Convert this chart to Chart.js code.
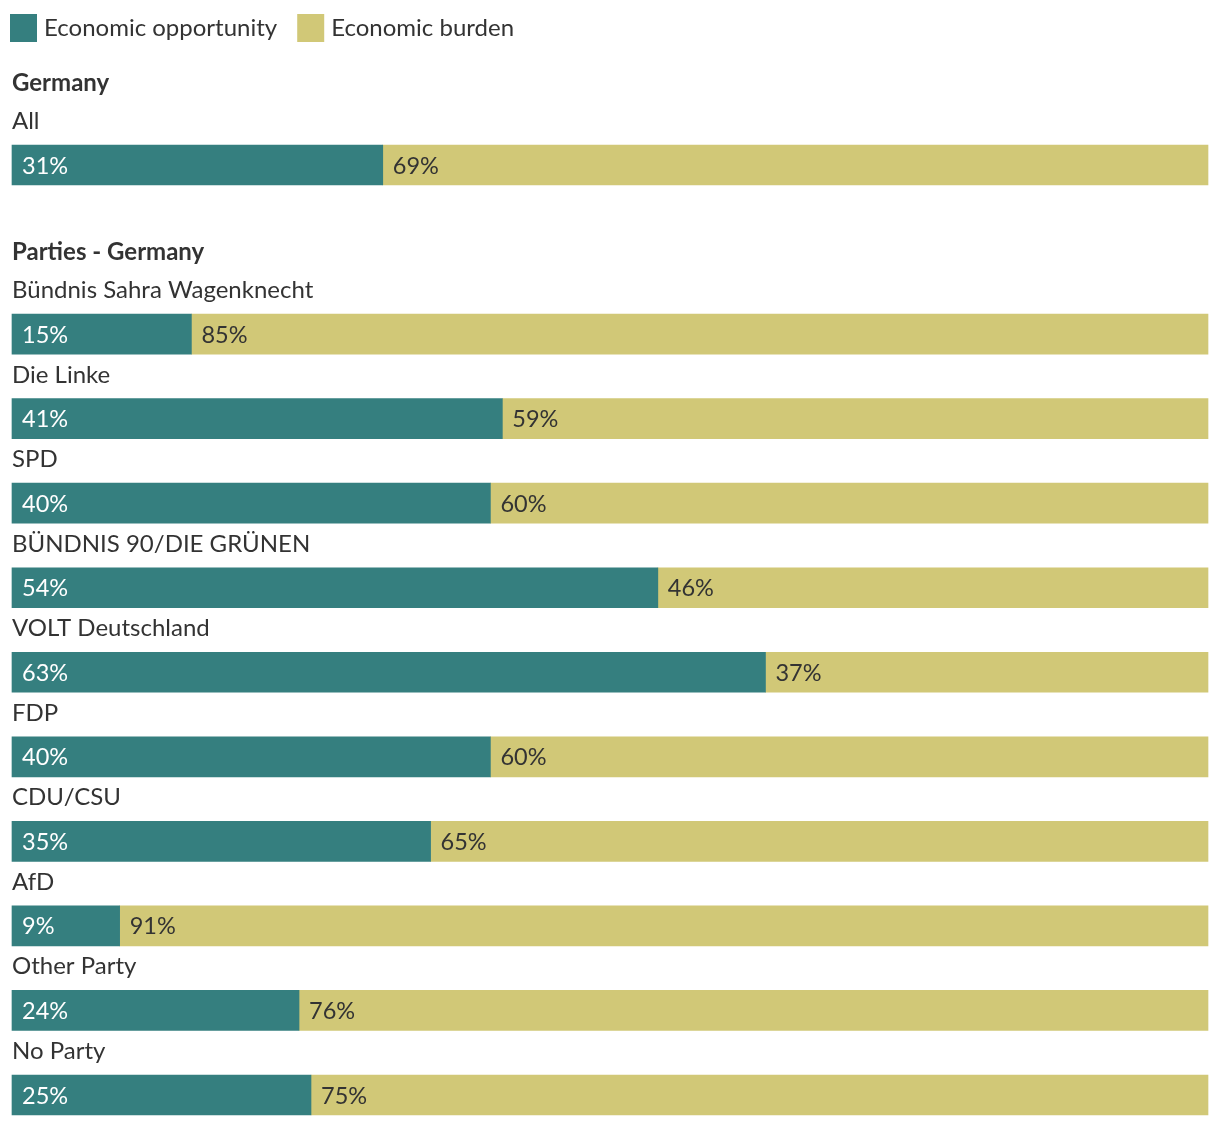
<!DOCTYPE html>
<html lang="en">
<head>
<meta charset="utf-8">
<title>Economic opportunity vs burden</title>
<script src="https://cdn.jsdelivr.net/npm/chart.js@4/dist/chart.umd.min.js"></script>
<style>
  html, body { margin: 0; padding: 0; background: #fff; }
  #wrap { width: 1220px; height: 1126px; position: relative; }
</style>
</head>
<body>
<div id="wrap"><canvas id="chart"></canvas></div>
<script>
// rows of the chart; the empty one leaves room for the second heading
const categories = ['All', '', 'Bündnis Sahra Wagenknecht', 'Die Linke', 'SPD', 'BÜNDNIS 90/DIE GRÜNEN',
    'VOLT Deutschland', 'FDP', 'CDU/CSU', 'AfD', 'Other Party', 'No Party'];
const headingTitles = ['Germany', 'Parties - Germany'];
const headingRows = [0, 2];

const seriesNames = ['Economic opportunity', 'Economic burden'];
const opportunity = [31, null, 15, 41, 40, 54, 63, 40, 35, 9, 24, 25];
const burden = [69, null, 85, 59, 60, 46, 37, 60, 65, 91, 76, 75];

const TEAL = '#357f7f';
const SAND = '#d1c877';
const INK = '#333333';
const FONT = 'Lato, "Open Sans", sans-serif';

// draws legend, group headings, row labels and the value labels inside the bars
const annotate = {
    id: 'annotate',
    afterDatasetsDraw(chart) {
        const ctx = chart.ctx;
        const yScale = chart.scales.y;
        ctx.save();

        // legend
        ctx.font = `24px ${FONT}`;
        ctx.textBaseline = 'alphabetic';
        let lx = 10;
        chart.data.datasets.forEach(ds => {
            ctx.fillStyle = ds.backgroundColor;
            ctx.fillRect(lx, 14, 27, 28);
            ctx.fillStyle = INK;
            ctx.fillText(ds.label, lx + 34, 36);
            lx += 34 + ctx.measureText(ds.label).width + 20;
        });

        // headings
        ctx.font = `bold 24px ${FONT}`;
        headingTitles.forEach((t, i) => {
            ctx.fillText(t, 12, yScale.getPixelForValue(headingRows[i]) - 74);
        });

        // row labels
        ctx.font = `24px ${FONT}`;
        categories.forEach((c, i) => {
            if (!c) return;
            ctx.fillText(c, 12, yScale.getPixelForValue(i) - 36);
        });

        // value labels
        ctx.font = `23.5px ${FONT}`;
        ctx.textBaseline = 'middle';
        chart.data.datasets.forEach((ds, di) => {
            const meta = chart.getDatasetMeta(di);
            ctx.fillStyle = di === 0 ? '#ffffff' : INK;
            meta.data.forEach((bar, i) => {
                const v = ds.data[i];
                if (v == null) return;
                const left = Math.min(bar.x, bar.base);
                ctx.fillText(v + '%', left + 10, bar.y + 1);
            });
        });
        ctx.restore();
    }
};

new Chart(document.getElementById('chart'), {
    type: 'bar',
    data: {
        labels: categories,
        datasets: [
            { label: seriesNames[0], data: opportunity, backgroundColor: TEAL },
            { label: seriesNames[1], data: burden, backgroundColor: SAND }
        ]
    },
    options: {
        indexAxis: 'y',
        responsive: true,
        maintainAspectRatio: false,
        animation: false,
        events: [],
        layout: { padding: { top: 165, bottom: 31, left: 12, right: 12 } },
        datasets: { bar: { barThickness: 40, borderWidth: 0, clip: false } },
        scales: {
            x: { stacked: true, min: 0, max: 100, display: false },
            y: { stacked: true, offset: false, display: false }
        },
        plugins: { legend: { display: false }, tooltip: { enabled: false } }
    },
    plugins: [annotate]
});
</script>
</body>
</html>
